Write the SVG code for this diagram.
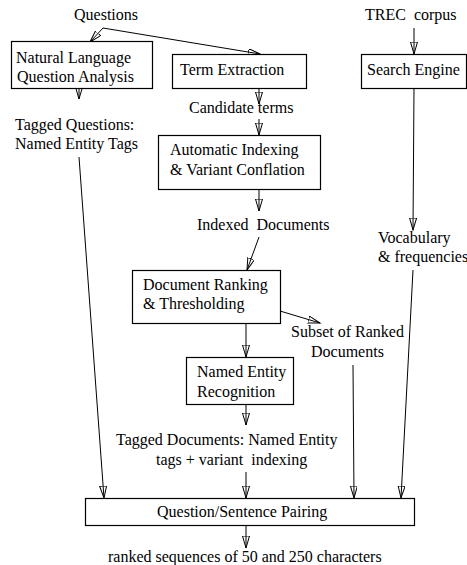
<svg xmlns="http://www.w3.org/2000/svg" width="467" height="565" viewBox="0 0 467 565">
<style>
text{font-family:"Liberation Serif","Times New Roman",serif;font-size:16px;fill:#000}
.box{fill:#fff;stroke:#000;stroke-width:1.2}
.c{fill:none;stroke:#000;stroke-width:1}
</style>
<defs>
<marker id="ah" markerUnits="userSpaceOnUse" markerWidth="14" markerHeight="9" refX="12" refY="3.5" orient="auto">
<path d="M0,0 L12,3.5 L0,7 Z" fill="none" stroke="#000" stroke-width="1"/>
</marker>
</defs>
<rect width="467" height="565" fill="#fff"/>
<g id="connectors">
<path class="c" marker-end="url(#ah)" d="M103,28 L90,42"/>
<path class="c" marker-end="url(#ah)" d="M103,28 L260,54"/>
<path class="c" marker-end="url(#ah)" d="M414,28 L414,54"/>
<path class="c" marker-end="url(#ah)" d="M79,88 L79,99"/>
<path class="c" marker-end="url(#ah)" d="M259,88 L259,104"/>
<path class="c" marker-end="url(#ah)" d="M259,119 L259,135"/>
<path class="c" marker-end="url(#ah)" d="M259,189 L259,211"/>
<path class="c" marker-end="url(#ah)" d="M259,237 L247,270"/>
<path class="c" marker-end="url(#ah)" d="M414,88 L413,230"/>
<path class="c" marker-end="url(#ah)" d="M280,311 L320,323"/>
<path class="c" marker-end="url(#ah)" d="M246,323 L246,357"/>
<path class="c" marker-end="url(#ah)" d="M246,404 L246,425"/>
<path class="c" marker-end="url(#ah)" d="M79,157 L104,498"/>
<path class="c" marker-end="url(#ah)" d="M246,472 L246,498"/>
<path class="c" marker-end="url(#ah)" d="M353,365 L354,498"/>
<path class="c" marker-end="url(#ah)" d="M413,270 L401,498"/>
<path class="c" marker-end="url(#ah)" d="M246,525 L246,548"/>
</g>
<g id="questions"><text x="74" y="20">Questions</text></g>
<g id="trec"><text x="365" y="20" xml:space="preserve">TREC  corpus</text></g>
<g id="nlqa">
<rect class="box" x="11.5" y="41.5" width="141" height="47"/>
<text x="16" y="63">Natural Language</text>
<text x="17" y="82">Question Analysis</text>
</g>
<g id="term">
<rect class="box" x="172.5" y="54.5" width="134" height="34"/>
<text x="180" y="75">Term Extraction</text>
</g>
<g id="search">
<rect class="box" x="361.5" y="54.5" width="105" height="34"/>
<text x="367" y="75">Search Engine</text>
</g>
<g id="candidate"><text x="189" y="113">Candidate terms</text></g>
<g id="taggedq">
<text x="15" y="130">Tagged Questions:</text>
<text x="15" y="149">Named Entity Tags</text>
</g>
<g id="autoidx">
<rect class="box" x="158.5" y="135.5" width="162" height="54"/>
<text x="170" y="155">Automatic Indexing</text>
<text x="170" y="175">&amp; Variant Conflation</text>
</g>
<g id="indexed"><text x="197" y="230" xml:space="preserve">Indexed  Documents</text></g>
<g id="vocab">
<text x="378" y="243">Vocabulary</text>
<text x="378" y="262">&amp; frequencies</text>
</g>
<g id="docrank">
<rect class="box" x="132.5" y="270.5" width="148" height="53"/>
<text x="143" y="290">Document Ranking</text>
<text x="143" y="309">&amp; Thresholding</text>
</g>
<g id="subset">
<text x="291" y="337">Subset of Ranked</text>
<text x="311" y="357">Documents</text>
</g>
<g id="ner">
<rect class="box" x="186.5" y="357.5" width="107" height="47"/>
<text x="197" y="377">Named Entity</text>
<text x="197" y="397">Recognition</text>
</g>
<g id="taggeddocs">
<text x="116" y="445">Tagged Documents: Named Entity</text>
<text x="156" y="465" xml:space="preserve">tags + variant  indexing</text>
</g>
<g id="qsp">
<rect class="box" x="85.5" y="498.5" width="329" height="27"/>
<text x="157" y="517">Question/Sentence Pairing</text>
</g>
<g id="output"><text x="108" y="562">ranked sequences of 50 and 250 characters</text></g>
</svg>
